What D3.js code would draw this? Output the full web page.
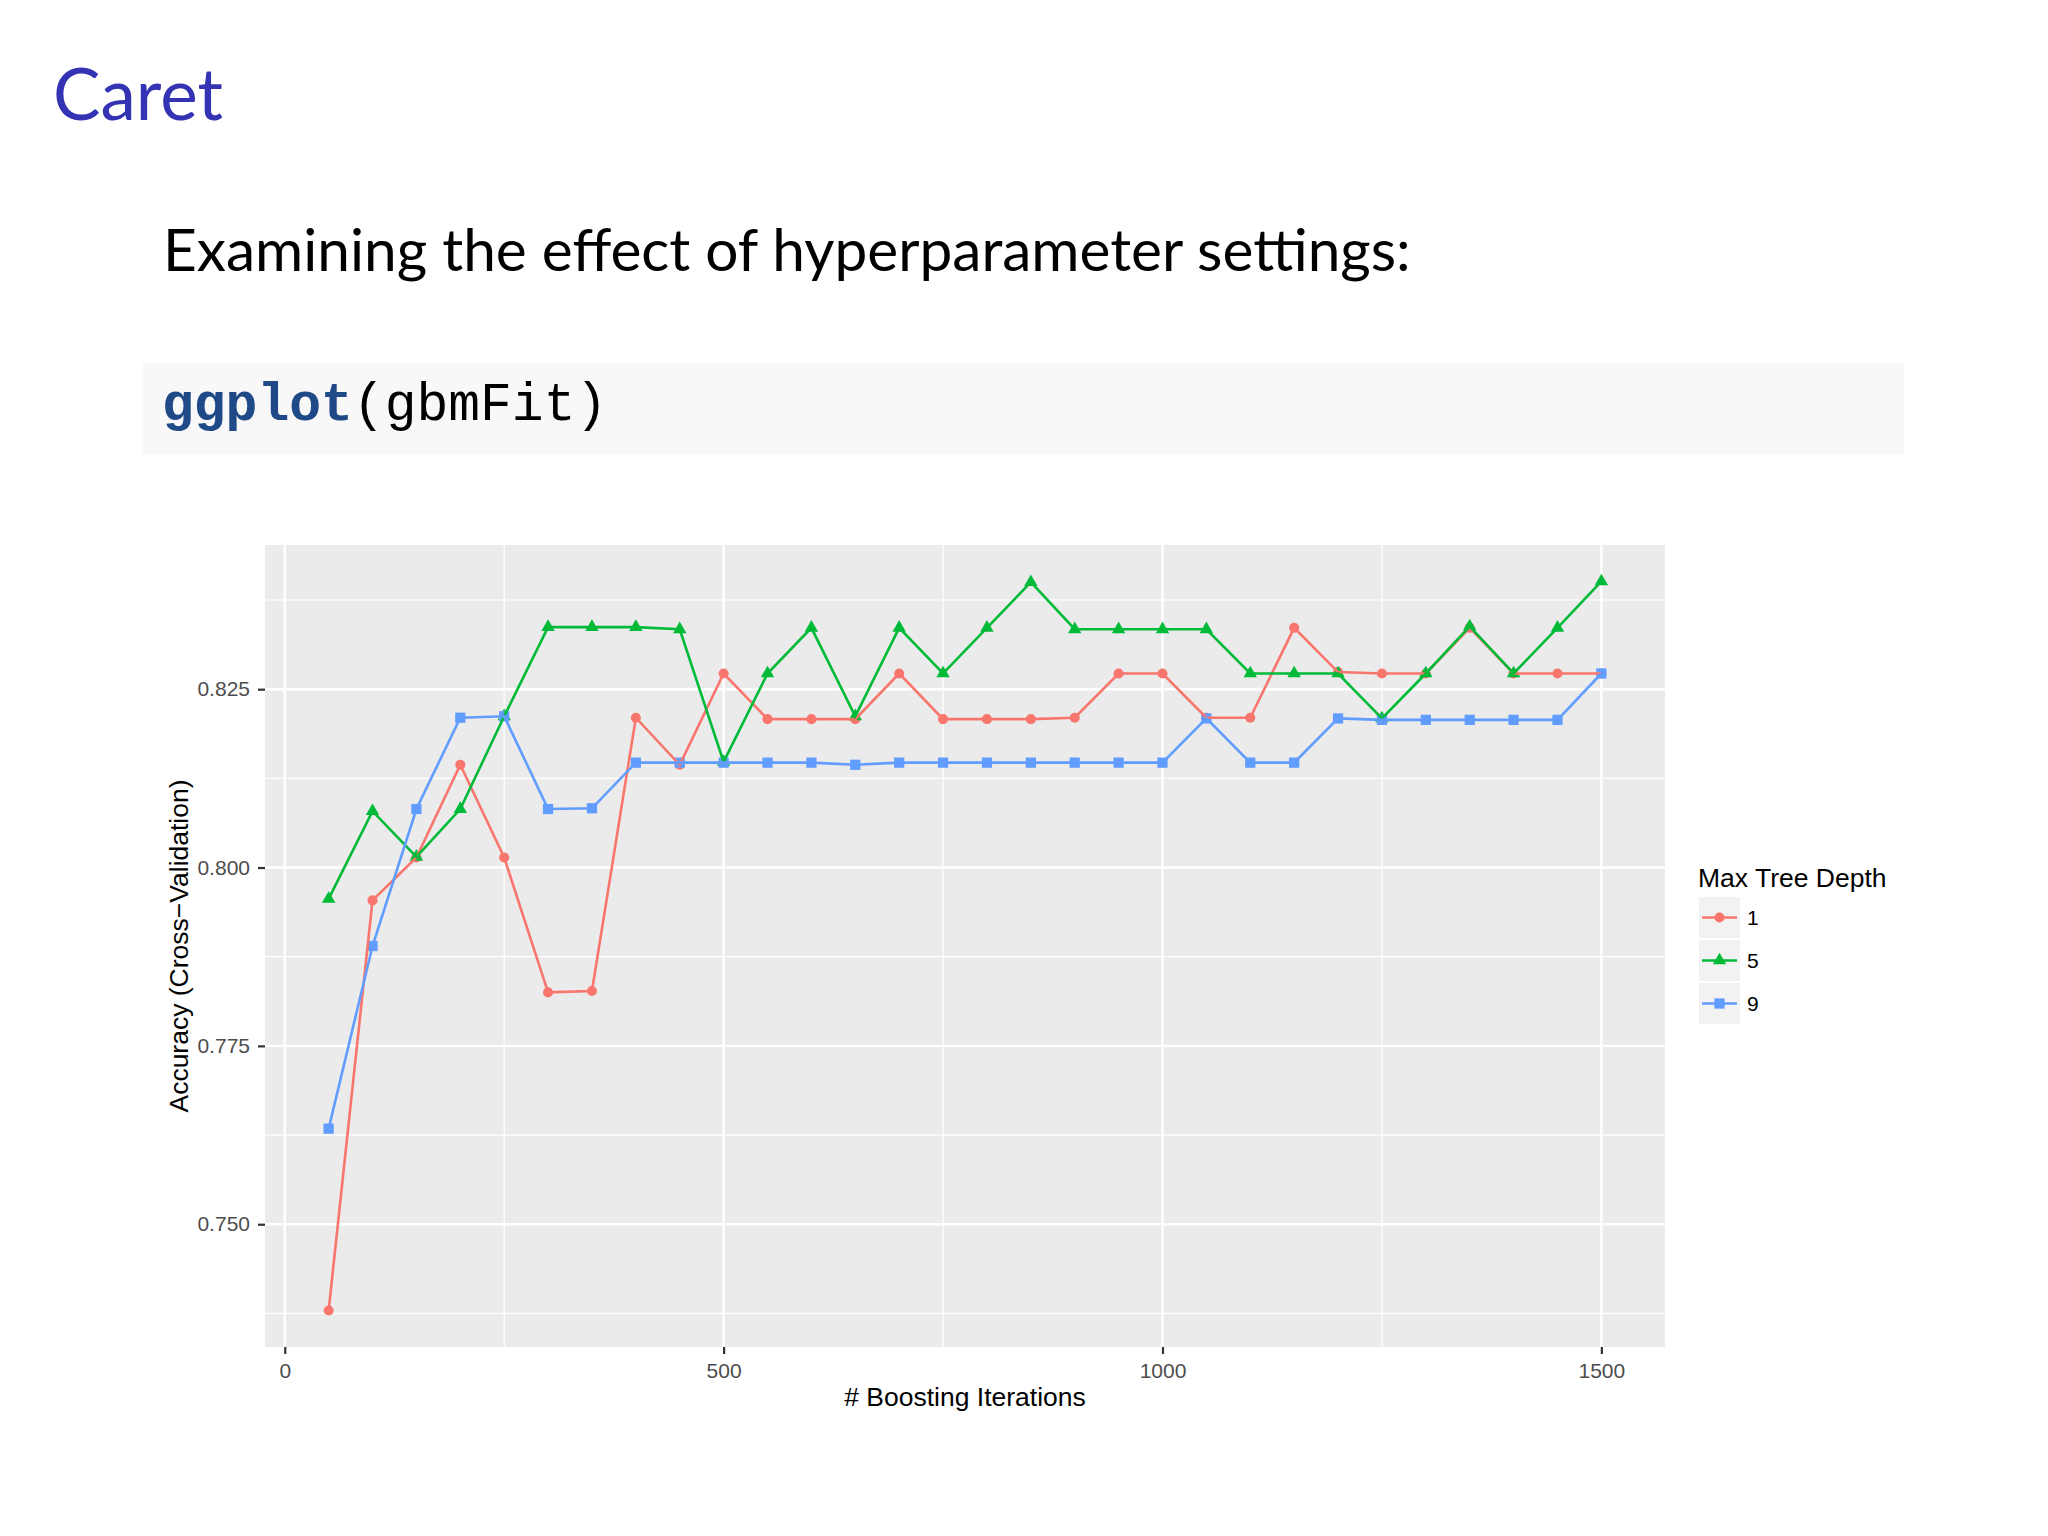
<!DOCTYPE html>
<html>
<head>
<meta charset="utf-8">
<script src="https://cdn.jsdelivr.net/npm/d3@7"></script>
<style>
html,body{margin:0;padding:0;background:#ffffff;}
svg{display:block;}
</style>
</head>
<body>
<svg id="chart" width="2048" height="1536"></svg>
<script>
// ---- data ----
const iterations = [50,100,150,200,250,300,350,400,450,500,550,600,650,700,750,800,850,900,950,1000,1050,1100,1150,1200,1250,1300,1350,1400,1450,1500];
const depthLabels = ["1","5","9"];
const depth1 = [0.7379,0.7954,0.8014,0.8144,0.8014,0.7825,0.7827,0.8210,0.8144,0.8272,0.8208,0.8208,0.8208,0.8272,0.8208,0.8208,0.8208,0.8210,0.8272,0.8272,0.8210,0.8210,0.8336,0.8274,0.8272,0.8272,0.8336,0.8272,0.8272,0.8272];
const depth5 = [0.7956,0.8079,0.8015,0.8082,0.8212,0.8337,0.8337,0.8337,0.8334,0.8148,0.8272,0.8336,0.8212,0.8336,0.8272,0.8336,0.8400,0.8334,0.8334,0.8334,0.8334,0.8272,0.8272,0.8272,0.8209,0.8272,0.8338,0.8272,0.8336,0.8401];
const depth9 = [0.7634,0.7890,0.8082,0.8210,0.8212,0.8082,0.8083,0.8147,0.8147,0.8147,0.8147,0.8147,0.8144,0.8147,0.8147,0.8147,0.8147,0.8147,0.8147,0.8147,0.8209,0.8147,0.8147,0.8209,0.8207,0.8207,0.8207,0.8207,0.8207,0.8272];
const xTicks = [0,500,1000,1500];
const xMinor = [250,750,1250];
const yTicks = [0.750,0.775,0.800,0.825];
const yMinor = [0.7375,0.7625,0.7875,0.8125,0.8375];

const seriesColors = ["#F8766D","#00BA38","#619CFF"];
const seriesShapes = [d3.symbolCircle, d3.symbolTriangle, d3.symbolSquare];
const shapeSizes = [80, 78, 105];

const series = [depth1, depth5, depth9].map((vals,i)=>({
  label: depthLabels[i], color: seriesColors[i], shape: seriesShapes[i], size: shapeSizes[i],
  points: iterations.map((it,j)=>({x:it, y:vals[j]}))
}));

const svg = d3.select("#chart");

// ---- slide header ----
function fitText(sel, target){
  const w = sel.node().getComputedTextLength();
  const fs = parseFloat(sel.attr("font-size"));
  sel.attr("font-size", (fs*target/w).toFixed(2));
}
const title = svg.append("text").attr("x",53).attr("y",120)
  .attr("font-family","Lato, 'Open Sans', sans-serif").attr("font-size",80)
  .attr("fill","#3333B3").text("Caret");
fitText(title,170);

const sub = svg.append("text").attr("x",163).attr("y",271)
  .attr("font-family","Lato, 'Open Sans', sans-serif").attr("font-size",60)
  .attr("fill","#000").text("Examining the effect of hyperparameter settings:");
fitText(sub,1248);

svg.append("rect").attr("x",143).attr("y",363).attr("width",1761).attr("height",91).attr("fill","#F8F8F9");
const code = svg.append("text").attr("x",162).attr("y",420)
  .attr("font-family","'Liberation Mono', 'DejaVu Sans Mono', monospace").attr("font-size",53);
code.append("tspan").attr("fill","#204A87").attr("font-weight","bold").text("ggplot");
code.append("tspan").attr("fill","#000").text("(gbmFit)");

// ---- plot ----
const panel = {left:265, right:1665, top:545, bottom:1347};
function expand(ext){ const d=(ext[1]-ext[0])*0.05; return [ext[0]-d, ext[1]+d]; }
const x = d3.scaleLinear().domain(expand(d3.extent(iterations))).range([panel.left,panel.right]);
const allVals = depth1.concat(depth5, depth9);
const y = d3.scaleLinear().domain(expand(d3.extent(allVals))).range([panel.bottom,panel.top]);

const g = svg.append("g");
g.append("rect").attr("x",panel.left).attr("y",panel.top)
  .attr("width",panel.right-panel.left).attr("height",panel.bottom-panel.top).attr("fill","#EBEBEB");

// grid
g.selectAll(".yminor").data(yMinor).enter().append("line")
  .attr("x1",panel.left).attr("x2",panel.right).attr("y1",d=>y(d)).attr("y2",d=>y(d))
  .attr("stroke","#fff").attr("stroke-width",1.2);
g.selectAll(".xminor").data(xMinor).enter().append("line")
  .attr("y1",panel.top).attr("y2",panel.bottom).attr("x1",d=>x(d)).attr("x2",d=>x(d))
  .attr("stroke","#fff").attr("stroke-width",1.2);
g.selectAll(".ymajor").data(yTicks).enter().append("line")
  .attr("x1",panel.left).attr("x2",panel.right).attr("y1",d=>y(d)).attr("y2",d=>y(d))
  .attr("stroke","#fff").attr("stroke-width",2.4);
g.selectAll(".xmajor").data(xTicks).enter().append("line")
  .attr("y1",panel.top).attr("y2",panel.bottom).attr("x1",d=>x(d)).attr("x2",d=>x(d))
  .attr("stroke","#fff").attr("stroke-width",2.4);

// points then lines
const line = d3.line().x(d=>x(d.x)).y(d=>y(d.y));
series.forEach(s=>{
  g.append("g").selectAll("path").data(s.points).enter().append("path")
    .attr("transform",d=>`translate(${x(d.x)},${y(d.y)})`)
    .attr("d", d3.symbol().type(s.shape).size(s.size)())
    .attr("fill", s.color);
});
series.forEach(s=>{
  g.append("path").datum(s.points).attr("d",line)
    .attr("fill","none").attr("stroke",s.color).attr("stroke-width",2.6);
});

// axes
const axFont = "'Liberation Sans', Arial, Helvetica, sans-serif";
const yAxis = svg.append("g").attr("transform",`translate(${panel.left},0)`)
  .call(d3.axisLeft(y).tickValues(yTicks).tickFormat(d3.format(".3f")).tickSize(7).tickPadding(8));
const xAxis = svg.append("g").attr("transform",`translate(0,${panel.bottom})`)
  .call(d3.axisBottom(x).tickValues(xTicks).tickFormat(d3.format("d")).tickSize(7).tickPadding(9));
[yAxis,xAxis].forEach(a=>{
  a.select(".domain").remove();
  a.selectAll(".tick line").attr("stroke","#333333").attr("stroke-width",2.2);
  a.selectAll(".tick text").attr("fill","#4D4D4D").attr("font-size",21).attr("font-family",axFont);
});

svg.append("text").attr("x",(panel.left+panel.right)/2).attr("y",1406)
  .attr("text-anchor","middle").attr("font-family",axFont).attr("font-size",26.5)
  .attr("fill","#000").text("# Boosting Iterations");
svg.append("text").attr("transform",`translate(188,${(panel.top+panel.bottom)/2}) rotate(-90)`)
  .attr("text-anchor","middle").attr("font-family",axFont).attr("font-size",26.5)
  .attr("fill","#000").text("Accuracy (Cross\u2212Validation)");

// legend
const leg = svg.append("g");
leg.append("text").attr("x",1698).attr("y",887).attr("font-family",axFont).attr("font-size",26.5)
  .attr("fill","#000").text("Max Tree Depth");
const keyH = 43, keyW = 41, keyTop = 897, keyLeft = 1699;
series.forEach((s,i)=>{
  const ky = keyTop + i*keyH;
  leg.append("rect").attr("x",keyLeft).attr("y",ky).attr("width",keyW).attr("height",keyH-2).attr("fill","#F2F2F2");
  const cy = ky + (keyH-2)/2, cx = keyLeft + keyW/2;
  leg.append("path").attr("transform",`translate(${cx},${cy})`)
    .attr("d", d3.symbol().type(s.shape).size(s.size)()).attr("fill",s.color);
  leg.append("line").attr("x1",keyLeft+3).attr("x2",keyLeft+keyW-3).attr("y1",cy).attr("y2",cy)
    .attr("stroke",s.color).attr("stroke-width",2.6);
  leg.append("text").attr("x",keyLeft+keyW+7).attr("y",cy).attr("dy","0.36em")
    .attr("font-family",axFont).attr("font-size",21).attr("fill","#000").text(s.label);
});
</script>
</body>
</html>
